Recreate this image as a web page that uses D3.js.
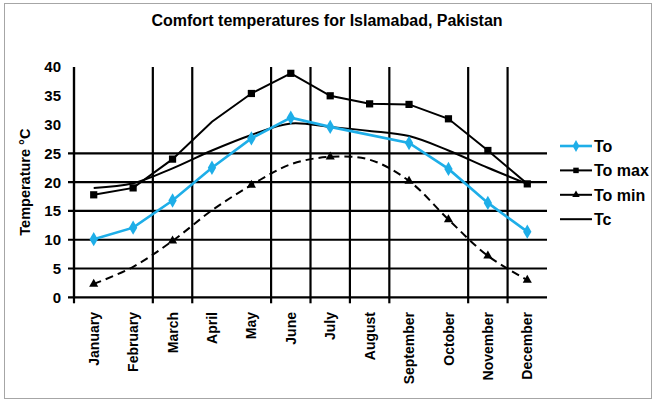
<!DOCTYPE html>
<html>
<head>
<meta charset="utf-8">
<script src="https://cdn.jsdelivr.net/npm/d3@7"></script>
<style>
  body { margin: 0; background: #fff; }
  svg text { font-family: "Liberation Sans", Arial, sans-serif; font-weight: bold; fill: #000; }
</style>
</head>
<body>
<svg id="chart"></svg>
<script>
// months along the bottom
var months = ["January", "February", "March", "April", "May", "June",
              "July", "August", "September", "October", "November", "December"];

// series values, degrees C (null = no point)
var toValues    = [10.1, 12.1, 16.8, 22.5, 27.6, 31.2, 29.6, null, 26.8, 22.3, 16.4, 11.4];
var toMaxValues = [17.8, 19.0, 24.0, 30.5, 35.4, 38.9, 35.0, 33.6, 33.5, 31.0, 25.5, 19.7];
var toMinValues = [2.3, 5.3, 9.8, 15.1, 19.5, 23.1, 24.4, 23.9, 20.2, 13.5, 7.2, 3.0];
var tcValues    = [19.0, 19.8, 22.4, 25.5, 28.2, 30.2, 29.6, 28.9, 28.0, 25.5, 22.5, 19.7];

// months that carry a marker
var toMaxMarked = ["January", "February", "March", "May", "June", "July", "August",
                   "September", "October", "November", "December"];
var toMinMarked = ["January", "March", "May", "July", "September", "October", "November", "December"];

// y axis
var yTicks = [0, 5, 10, 15, 20, 25, 30, 35, 40];
var yGridValues = [0, 5, 10, 15, 20, 25];
// months with a divider line on their left edge
var dividerMonths = ["January", "March", "April", "June", "July", "August",
                     "September", "November", "December"];

var legendLabels = ["To", "To max", "To min", "Tc"];

var width = 654, height = 402;
var blue = "#1eaee8";

var svg = d3.select("#chart")
    .attr("width", width)
    .attr("height", height);

svg.append("rect")
    .attr("x", 4.5).attr("y", 3.5)
    .attr("width", 647).attr("height", 395)
    .attr("fill", "#fff")
    .attr("stroke", "#a6a6a6");

var x = d3.scaleBand().domain(months).range([74, 547]).padding(0);
var y = d3.scaleLinear().domain([0, 40]).range([297.3, 67]);
var cx = function(m) { return x(m) + x.bandwidth() / 2; };

// title
svg.append("text")
    .attr("x", 327).attr("y", 26)
    .attr("text-anchor", "middle")
    .style("font-size", "16px")
    .text("Comfort temperatures for Islamabad, Pakistan");

// horizontal grid
svg.append("g").selectAll("line")
    .data(yGridValues)
    .enter().append("line")
    .attr("x1", 68).attr("x2", 547)
    .attr("y1", function(d) { return y(d); })
    .attr("y2", function(d) { return y(d); })
    .attr("stroke", "#000")
    .attr("stroke-width", 2.2);

// vertical dividers
svg.append("g").selectAll("line")
    .data(dividerMonths)
    .enter().append("line")
    .attr("x1", function(d) { return x(d); })
    .attr("x2", function(d) { return x(d); })
    .attr("y1", y(40)).attr("y2", y(0) + 6)
    .attr("stroke", "#000")
    .attr("stroke-width", 2.2);

// y labels
svg.append("g").selectAll("text")
    .data(yTicks)
    .enter().append("text")
    .attr("x", 61)
    .attr("y", function(d) { return y(d); })
    .attr("dy", "0.36em")
    .attr("text-anchor", "end")
    .style("font-size", "15px")
    .text(function(d) { return d; });

svg.append("text")
    .attr("transform", "translate(30," + y(20) + ") rotate(-90)")
    .attr("text-anchor", "middle")
    .style("font-size", "14.5px")
    .text("Temperature °C");

// month labels
svg.append("g").selectAll("text")
    .data(months)
    .enter().append("text")
    .attr("transform", function(d) { return "translate(" + cx(d) + ",312) rotate(-90)"; })
    .attr("dy", "0.36em")
    .attr("text-anchor", "end")
    .style("font-size", "14px")
    .text(function(d) { return d; });

function pts(values) {
  return months.map(function(m, i) { return { m: m, v: values[i] }; })
               .filter(function(p) { return p.v != null; });
}

function drawLine(values, color, w, curve, dash) {
  var line = d3.line()
      .x(function(p) { return cx(p.m); })
      .y(function(p) { return y(p.v); })
      .curve(curve);
  svg.append("path")
      .datum(pts(values))
      .attr("d", line)
      .attr("fill", "none")
      .attr("stroke", color)
      .attr("stroke-width", w)
      .attr("stroke-dasharray", dash || null);
}

function drawMarkers(values, marked, symbol, size, color) {
  svg.append("g").selectAll("path")
      .data(pts(values).filter(function(p) { return marked.indexOf(p.m) >= 0; }))
      .enter().append("path")
      .attr("d", d3.symbol().type(symbol).size(size))
      .attr("transform", function(p) { return "translate(" + cx(p.m) + "," + y(p.v) + ")"; })
      .attr("fill", color);
}

drawLine(tcValues, "#000", 2, d3.curveCatmullRom);
drawLine(toMinValues, "#000", 2, d3.curveCatmullRom, "8,5");
drawLine(toMaxValues, "#000", 2, d3.curveLinear);
drawLine(toValues, blue, 2.6, d3.curveLinear);

drawMarkers(toMinValues, toMinMarked, d3.symbolTriangle, 36, "#000");
drawMarkers(toMaxValues, toMaxMarked, d3.symbolSquare, 52, "#000");
drawMarkers(toValues, months, d3.symbolDiamond, 60, blue);

// axes
svg.append("line")
    .attr("x1", 74).attr("x2", 74)
    .attr("y1", y(40)).attr("y2", y(0))
    .attr("stroke", "#000").attr("stroke-width", 2.2);

// legend
var legendStyles = [
  { color: blue, symbol: d3.symbolDiamond, size: 40, w: 2.6 },
  { color: "#000", symbol: d3.symbolSquare, size: 30, w: 2 },
  { color: "#000", symbol: d3.symbolTriangle, size: 24, w: 2 },
  { color: "#000", symbol: null, size: 0, w: 2 }
];
var legend = svg.append("g").selectAll("g")
    .data(legendLabels)
    .enter().append("g")
    .attr("transform", function(d, i) { return "translate(560," + (146 + i * 24.4) + ")"; });

legend.append("line")
    .attr("x1", 0).attr("x2", 32)
    .attr("stroke", function(d, i) { return legendStyles[i].color; })
    .attr("stroke-width", function(d, i) { return legendStyles[i].w; });

legend.filter(function(d, i) { return legendStyles[i].symbol; })
    .append("path")
    .attr("transform", "translate(16,0)")
    .attr("d", function(d) {
      var s = legendStyles[legendLabels.indexOf(d)];
      return d3.symbol().type(s.symbol).size(s.size)();
    })
    .attr("fill", function(d) { return legendStyles[legendLabels.indexOf(d)].color; });

legend.append("text")
    .attr("x", 34)
    .attr("dy", "0.36em")
    .style("font-size", "16px")
    .text(function(d) { return d; });
</script>
</body>
</html>
